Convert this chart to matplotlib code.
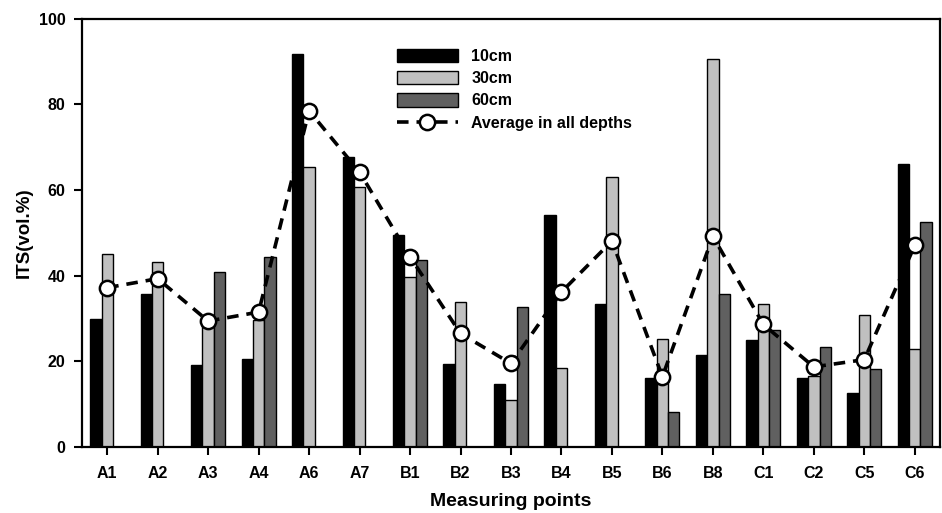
import numpy as np
import matplotlib
matplotlib.use("Agg")
import matplotlib.pyplot as plt

plt.rcParams['font.family'] = ['Liberation Sans', 'DejaVu Sans']
plt.rcParams['font.weight'] = 'bold'

categories = ["A1", "A2", "A3", "A4", "A6", "A7", "B1", "B2", "B3", "B4",
              "B5", "B6", "B8", "C1", "C2", "C5", "C6"]
d10 = [29.8, 35.8, 19.1, 20.5, 91.8, 67.8, 49.6, 19.3, 14.7, 54.1,
       33.3, 16.2, 21.4, 24.9, 16.2, 12.7, 66.1]
d30 = [45.1, 43.1, 28.2, 29.6, 65.3, 60.8, 39.7, 33.9, 11.0, 18.5,
       63.0, 25.2, 90.7, 33.3, 16.5, 30.8, 22.8]
d60 = [np.nan, np.nan, 40.9, 44.4, np.nan, np.nan, 43.7, np.nan, 32.6, np.nan,
       np.nan, 8.1, 35.8, 27.4, 23.4, 18.1, 52.5]
avg = [37.2, 39.3, 29.4, 31.5, 78.5, 64.2, 44.4, 26.5, 19.5, 36.2,
       48.1, 16.4, 49.2, 28.6, 18.7, 20.4, 47.1]

fig = plt.figure(figsize=(9.42, 5.13), dpi=100)
ax = fig.add_axes([0.0870, 0.1287, 0.9109, 0.8348])

x = np.arange(len(categories))
w = 0.225
b1 = ax.bar(x - w, d10, w, color='black', edgecolor='black', linewidth=1.0, label='10cm', zorder=2)
b2 = ax.bar(x, d30, w, color='#c0c0c0', edgecolor='black', linewidth=1.0, label='30cm', zorder=2)
b3 = ax.bar(x + w, d60, w, color='#606060', edgecolor='black', linewidth=1.0, label='60cm', zorder=2)
ln, = ax.plot(x, avg, linestyle=(0, (3.2, 2.2)), color='black', linewidth=2.6,
              marker='o', markersize=11, markerfacecolor='white', markeredgecolor='black',
              markeredgewidth=1.8, label='Average in all depths', zorder=3)

ax.set_xlim(-0.5, 16.5)
ax.set_ylim(0, 100)
ax.set_xticks(x)
ax.set_xticklabels(categories)
ax.set_yticks([0, 20, 40, 60, 80, 100])
ax.tick_params(direction='out', length=6, width=1.5, labelsize=11.5, pad=6)
ax.tick_params(axis='x', pad=8)
for lbl in ax.get_xticklabels() + ax.get_yticklabels():
    lbl.set_fontweight('bold')
for s in ax.spines.values():
    s.set_linewidth(1.6)

ax.set_xlabel('Measuring points', fontsize=14, fontweight='bold', labelpad=8)
ax.set_ylabel('ITS(vol.%)', fontsize=13.5, fontweight='bold', labelpad=4)

leg = ax.legend([b1, b2, b3, ln], ['10cm', '30cm', '60cm', 'Average in all depths'],
                loc='upper left', bbox_to_anchor=(0.367, 0.93), frameon=False,
                fontsize=11.5, handlelength=3.8, handleheight=0.9,
                handletextpad=0.85, labelspacing=0.45, borderpad=0, borderaxespad=0)
for t in leg.get_texts():
    t.set_fontweight('bold')

fig.savefig('out.png', dpi=100)
